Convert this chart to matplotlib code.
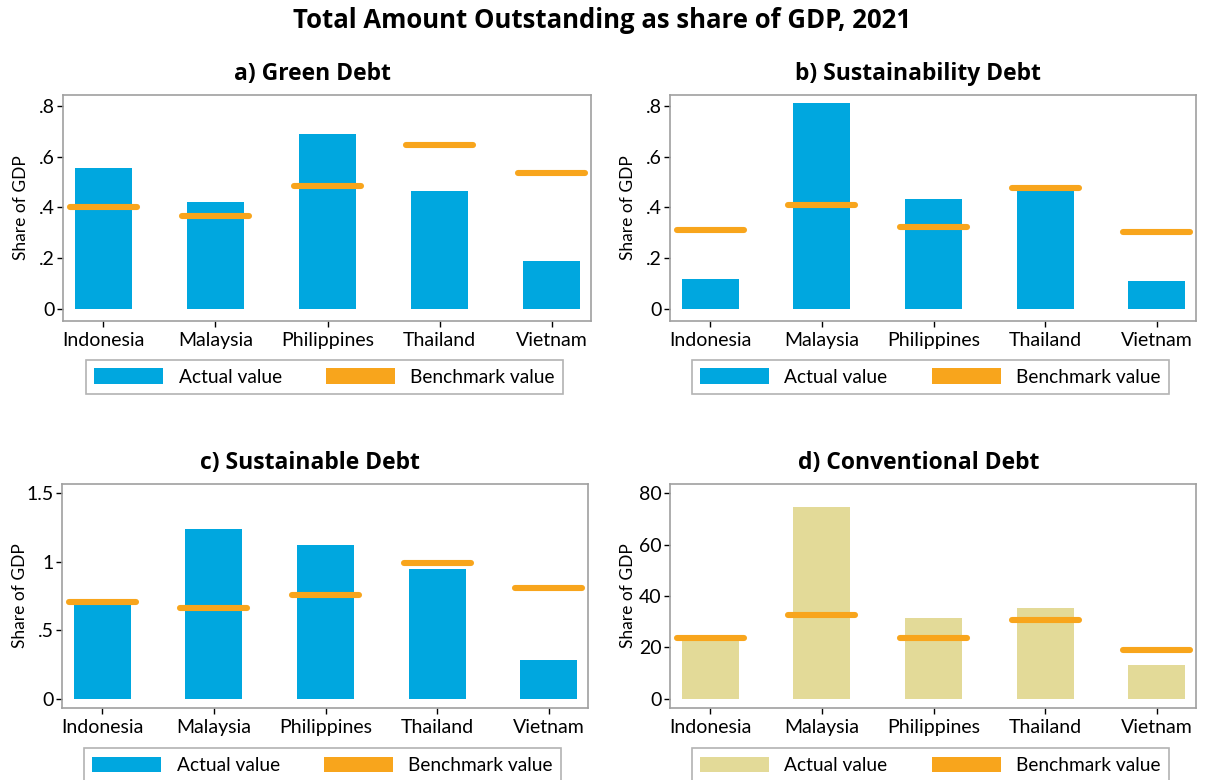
import matplotlib
matplotlib.use("Agg")
import matplotlib.pyplot as plt
from matplotlib.patches import Patch
from matplotlib.ticker import FuncFormatter

plt.rcParams['font.family'] = ['Lato', 'DejaVu Sans']

countries = ["Indonesia", "Malaysia", "Philippines", "Thailand", "Vietnam"]

green_actual = [0.555, 0.421, 0.690, 0.465, 0.189]
green_bench = [0.400, 0.366, 0.484, 0.644, 0.534]

sustainability_actual = [0.118, 0.809, 0.434, 0.465, 0.110]
sustainability_bench = [0.310, 0.409, 0.321, 0.478, 0.304]

sustainable_actual = [0.690, 1.236, 1.124, 0.946, 0.287]
sustainable_bench = [0.707, 0.665, 0.759, 0.988, 0.806]

conventional_actual = [23.0, 74.6, 31.5, 35.4, 13.3]
conventional_bench = [23.6, 32.8, 23.6, 30.6, 19.0]

BLUE = '#00A7DF'
KHAKI = '#E3DA98'
ORANGE = '#F8A51C'
FRAME = '#A0A0A0'
TITLE_FONT = ['Open Sans', 'DejaVu Sans']


def fmt_tick(v, pos):
    if abs(v) < 1e-9:
        return '0'
    s = '%g' % v
    if s.startswith('0.'):
        s = s[1:]
    return s


def draw_panel(ax, title, actual, bench, bar_color, yticks, ylim, leg_offset):
    x = list(range(len(countries)))
    ax.bar(x, actual, width=0.51, color=bar_color, zorder=2)
    for xi, b in zip(x, bench):
        ax.plot([xi - 0.30, xi + 0.30], [b, b], color=ORANGE, lw=4.4,
                solid_capstyle='round', zorder=3)
    ax.set_xlim(-0.36, 4.35)
    ax.set_ylim(*ylim)
    ax.set_xticks(x)
    ax.set_xticklabels(countries, fontsize=14)
    ax.set_yticks(yticks)
    ax.yaxis.set_major_formatter(FuncFormatter(fmt_tick))
    ax.tick_params(axis='y', labelsize=14, length=4, width=1, pad=2)
    ax.tick_params(axis='x', length=4, width=1, pad=4)
    for sp in ax.spines.values():
        sp.set_color(FRAME)
        sp.set_linewidth(1.2)
    ax.set_ylabel("Share of GDP", fontsize=12.5)
    ax.yaxis.set_label_coords(-0.064, 0.5)
    # panel titles sit a little left of the axes centre
    ax.set_title(title, fontsize=16.5, fontweight='bold', pad=11, x=0.472,
                 family=TITLE_FONT)
    handles = [Patch(facecolor=bar_color, edgecolor='none'),
               Patch(facecolor=ORANGE, edgecolor='none')]
    leg = ax.legend(handles, ["Actual value", "Benchmark value"], ncol=2,
                    loc='upper center', bbox_to_anchor=(0.495, leg_offset),
                    borderaxespad=0, frameon=True, fancybox=False,
                    fontsize=13.8, handlelength=3.6, handleheight=0.85,
                    handletextpad=0.8, columnspacing=2.3, borderpad=0.45)
    leg.get_frame().set_edgecolor(FRAME)
    leg.get_frame().set_linewidth(1.2)


fig = plt.figure(figsize=(12.05, 7.8), dpi=100)

ax_a = fig.add_axes([0.0523, 0.5885, 0.4382, 0.2897])
ax_b = fig.add_axes([0.5560, 0.5885, 0.4365, 0.2897])
ax_c = fig.add_axes([0.0515, 0.0923, 0.4365, 0.2872])
ax_d = fig.add_axes([0.5560, 0.0923, 0.4365, 0.2872])

draw_panel(ax_a, "a) Green Debt", green_actual, green_bench, BLUE,
           [0, 0.2, 0.4, 0.6, 0.8], (-0.047, 0.842), -0.172)
draw_panel(ax_b, "b) Sustainability Debt", sustainability_actual,
           sustainability_bench, BLUE, [0, 0.2, 0.4, 0.6, 0.8],
           (-0.047, 0.842), -0.172)
draw_panel(ax_c, "c) Sustainable Debt", sustainable_actual, sustainable_bench,
           BLUE, [0, 0.5, 1.0, 1.5], (-0.066, 1.566), -0.178)
draw_panel(ax_d, "d) Conventional Debt", conventional_actual,
           conventional_bench, KHAKI, [0, 20, 40, 60, 80], (-3.5, 83.5), -0.178)

fig.text(0.5, 1 - 21 / 780, "Total Amount Outstanding as share of GDP, 2021",
         ha='center', va='center', fontsize=18.5, fontweight='bold',
         family=TITLE_FONT)

fig.savefig("out.png", dpi=100)
